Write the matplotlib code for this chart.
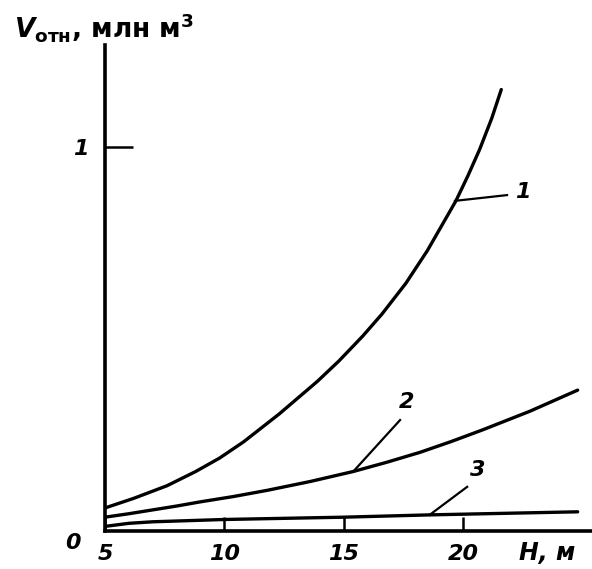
import numpy as np
import matplotlib.pyplot as plt

# curve 1
h1 = [5.0, 6.2, 7.6, 8.8, 9.8, 10.8, 12.3, 13.9, 14.8, 15.8, 16.6, 17.6, 18.5, 19.7, 20.2, 20.7, 21.2, 21.6]
v1 = [0.06, 0.085, 0.118, 0.155, 0.19, 0.232, 0.305, 0.39, 0.443, 0.508, 0.565, 0.645, 0.73, 0.86, 0.925, 0.995, 1.075, 1.15]
# curve 2
h2 = [5.0, 6.0, 7.0, 8.0, 9.0, 10.4, 11.8, 13.6, 15.4, 16.8, 18.2, 19.5, 20.8, 22.8, 24.8]
v2 = [0.036, 0.045, 0.055, 0.065, 0.076, 0.09, 0.106, 0.129, 0.155, 0.179, 0.205, 0.233, 0.263, 0.312, 0.367]
# curve 3
h3 = [5.0, 6.0, 7.0, 10.0, 15.0, 18.6, 24.8]
v3 = [0.012, 0.02, 0.024, 0.03, 0.036, 0.042, 0.05]

xticks = [5, 10, 15, 20]
xlabels = ['5', '10', '15', '20']

plt.rcParams['font.family'] = 'DejaVu Sans'
plt.rcParams['mathtext.fontset'] = 'custom'
plt.rcParams['mathtext.it'] = 'DejaVu Sans:italic:bold'
plt.rcParams['mathtext.rm'] = 'DejaVu Sans:bold'
plt.rcParams['mathtext.bf'] = 'DejaVu Sans:bold'

fig = plt.figure(figsize=(5.92, 5.69), dpi=100)
ax = fig.add_axes([105 / 592, 38 / 569, 487 / 592, 486 / 569])

lw = 2.4
ax.plot(h1, v1, color='black', lw=lw, solid_capstyle='round', solid_joinstyle='round')
ax.plot(h2, v2, color='black', lw=lw, solid_capstyle='round', solid_joinstyle='round')
ax.plot(h3, v3, color='black', lw=lw, solid_capstyle='round', solid_joinstyle='round')

ax.set_xlim(5, 25.4)
ax.set_ylim(0, 1.266)

for s in ['top', 'right']:
    ax.spines[s].set_visible(False)
for s in ['left', 'bottom']:
    ax.spines[s].set_linewidth(2.6)

tf = dict(fontsize=16, fontweight='bold', fontstyle='italic')
ax.set_xticks(xticks)
ax.set_xticklabels(xlabels, **tf)
ax.set_yticks([1])
ax.set_yticklabels(['1'], **tf)
ax.tick_params(axis='x', direction='in', length=10, width=1.8, pad=9)
ax.tick_params(axis='y', direction='in', length=20, width=1.8, pad=12)

ax.text(-0.065, -0.025, '0', transform=ax.transAxes, ha='center', va='center', **tf)
ax.text(23.5, -0.058, 'H, м', ha='center', va='center', clip_on=False,
        fontsize=17, fontweight='bold', fontstyle='italic')

# leaders and curve numbers
leader = dict(color='black', lw=1.6)
ax.plot([19.66, 21.84], [0.86, 0.875], **leader)
ax.text(22.5, 0.882, '1', ha='center', va='center', **tf)
ax.plot([15.4, 17.36], [0.155, 0.289], **leader)
ax.text(17.65, 0.336, '2', ha='center', va='center', **tf)
ax.plot([18.6, 20.17], [0.042, 0.115], **leader)
ax.text(20.6, 0.159, '3', ha='center', va='center', **tf)

fig.text(14 / 592, 1 - 28 / 569, r'$V_{\mathrm{отн}}$, млн м$^{\mathrm{3}}$',
         fontsize=19, fontweight='bold', ha='left', va='center')

fig.savefig('out.png', dpi=100)
